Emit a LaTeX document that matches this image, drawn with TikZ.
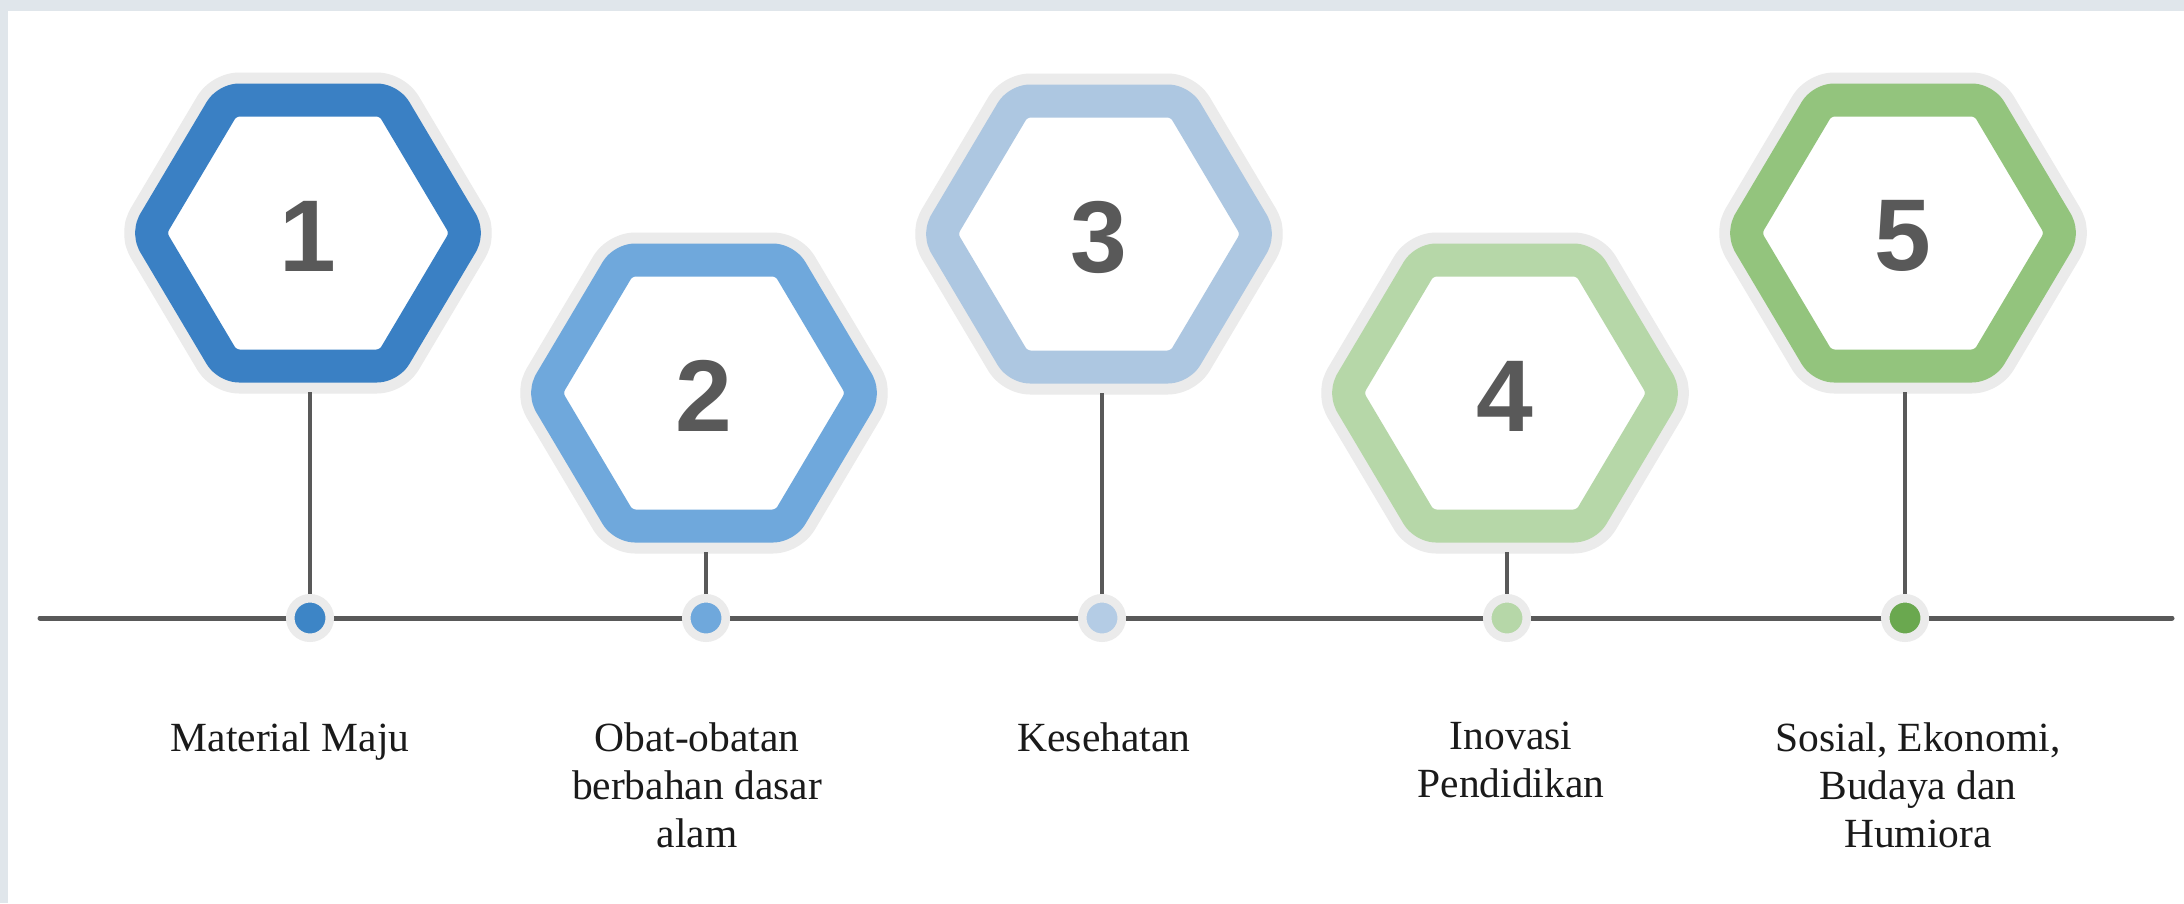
\documentclass[tikz,border=0pt]{standalone}
\usepackage{fontspec}
\setmainfont{Liberation Serif}
\newfontfamily\numfont{Liberation Sans}
\definecolor{frame}{HTML}{E0E6EB}
\definecolor{halo}{HTML}{EBEBEB}
\definecolor{linegray}{HTML}{595959}
\definecolor{numgray}{HTML}{595959}
\definecolor{labtext}{HTML}{1A1A1A}
\definecolor{ca}{HTML}{3A80C4}
\definecolor{cb}{HTML}{6FA8DC}
\definecolor{cc}{HTML}{ADC7E1}
\definecolor{cd}{HTML}{B6D7A8}
\definecolor{ce}{HTML}{93C47D}
\definecolor{da}{HTML}{3D85C6}
\definecolor{db}{HTML}{6FA8DC}
\definecolor{dc}{HTML}{B4CCE5}
\definecolor{dd}{HTML}{B6D7A8}
\definecolor{de}{HTML}{6AA84F}
\begin{document}
\begin{tikzpicture}[x=1pt,y=-1pt,
  hexhalo/.style={draw=halo, fill=halo, line width=55pt, line join=round, rounded corners=12pt},
  hexring/.style={draw=#1, fill=white, line width=33pt, line join=round, rounded corners=12pt},
  num/.style={font=\numfont\bfseries\fontsize{102}{110}\selectfont, text=numgray, inner sep=0pt},
  dotnode/.style={circle, minimum size=39.5pt, inner sep=0pt, line width=8.5pt, draw=halo, fill=#1},
  pinline/.style={draw=linegray, line width=4.8pt},
  tline/.style={draw=linegray, line width=5pt, line cap=round},
  lab/.style={font=\fontsize{41.5}{48}\selectfont, text=labtext, align=center, inner sep=0pt, anchor=north}
]
\useasboundingbox (0,0) rectangle (2184,903);
\fill[frame] (0,0) rectangle (2184,903);
\fill[white] (8,11) rectangle (2184,903);

\coordinate (L) at (40,618);
\coordinate (R) at (2172,618);
\draw[tline] (L) -- (R);

\foreach \i/\hx/\hy/\px/\rc/\dcol in {1/308/233/310/ca/da, 2/704/393/706/cb/db, 3/1099/234/1102/cc/dc, 4/1505/393/1507/cd/dd, 5/1903/233/1905/ce/de}{
  \draw[hexhalo] (\hx-160,\hy) -- (\hx-81,\hy-133) -- (\hx+81,\hy-133) -- (\hx+160,\hy) -- (\hx+81,\hy+133) -- (\hx-81,\hy+133) -- cycle;
  \draw[hexring=\rc] (\hx-160,\hy) -- (\hx-81,\hy-133) -- (\hx+81,\hy-133) -- (\hx+160,\hy) -- (\hx+81,\hy+133) -- (\hx-81,\hy+133) -- cycle;
  \node[num] (n\i) at (\hx,\hy+3) {\i};
  \coordinate (b\i) at (\px,\hy+159);
  \node[dotnode=\dcol] (d\i) at (\px,618) {};
  \draw[pinline] (b\i) -- (d\i);
}

\node[lab] (t1) at (290,722) {Material Maju};
\node[lab] (t2) at (697,722) {Obat-obatan\\berbahan dasar\\alam};
\node[lab] (t3) at (1104,722) {Kesehatan};
\node[lab] (t4) at (1511,722) {Inovasi\\Pendidikan};
\node[lab] (t5) at (1918,722) {Sosial, Ekonomi,\\Budaya dan\\Humiora};
\end{tikzpicture}
\end{document}
